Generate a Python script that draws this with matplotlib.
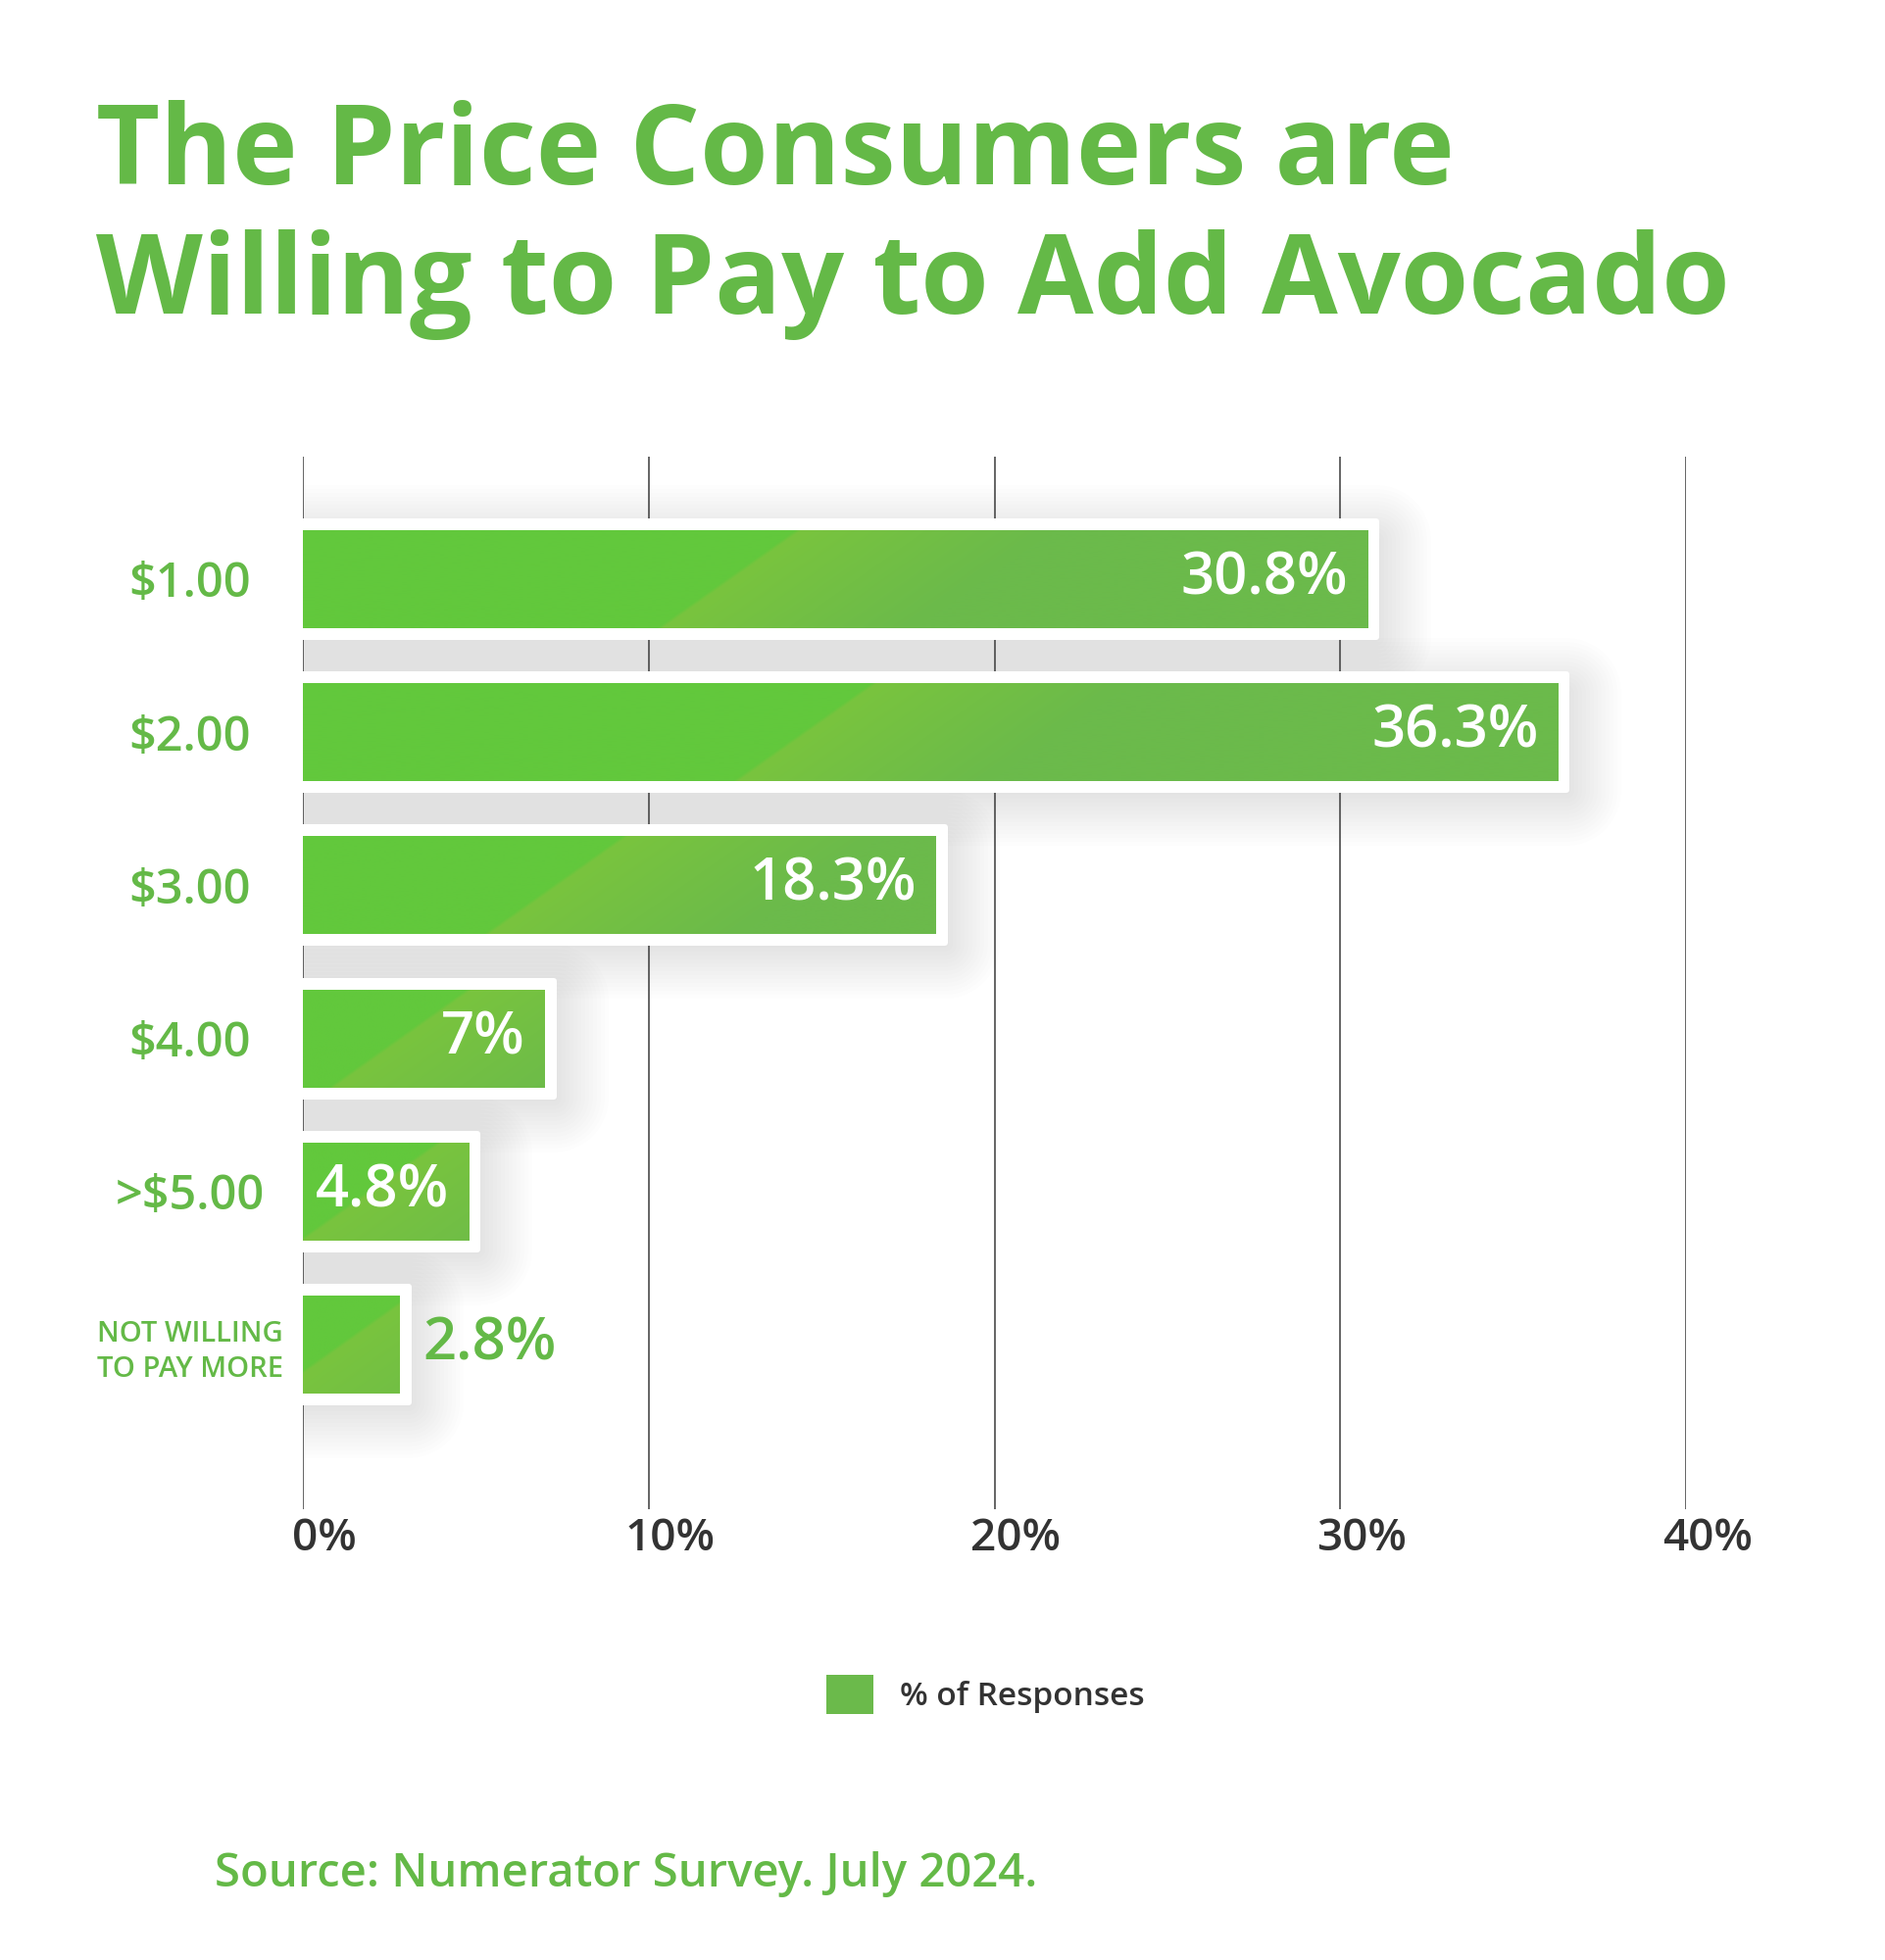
"""
Recreate the avocado add-on price infographic as a horizontal bar chart.
"""

import numpy as np
import matplotlib.pyplot as plt
from matplotlib.colors import to_rgb
from matplotlib.patches import Rectangle, Patch
from matplotlib.transforms import ScaledTranslation

# data
categories = ["$1.00", "$2.00", "$3.00", "$4.00", ">$5.00", "NOT WILLING\nTO PAY MORE"]
responses = [30.8, 36.3, 18.3, 7.0, 4.8, 2.8]
value_labels = ["30.8%", "36.3%", "18.3%", "7%", "4.8%", "2.8%"]
x_ticks = [0, 10, 20, 30, 40]
x_tick_labels = ["0%", "10%", "20%", "30%", "40%"]
title_lines = ["The Price Consumers are", "Willing to Pay to Add Avocado"]
legend_label = "% of Responses"
source_note = "Source: Numerator Survey. July 2024."

GREEN = "#64b947"
BAR_GREEN = "#6bba4b"
DARK = "#333333"
FONT = ["Open Sans", "DejaVu Sans"]

plt.rcParams["font.family"] = FONT

W_PX, H_PX, DPI = 1924, 2000, 100
fig = plt.figure(figsize=(W_PX / DPI, H_PX / DPI), dpi=DPI)
fig.patch.set_facecolor("white")

# axes box in pixels: left 309, right 1720, top 466, bottom 1540
ax_left, ax_right, ax_top, ax_bottom = 309, 1720, 466, 1540
ax = fig.add_axes([ax_left / W_PX, 1 - ax_bottom / H_PX,
                   (ax_right - ax_left) / W_PX, (ax_bottom - ax_top) / H_PX])
ax.set_facecolor("none")

y_pos = np.arange(len(categories))
x_lim = (0, 40)
y_lim = (len(categories) - 1 + 1.075, -0.8)
ppx = (ax_right - ax_left) / (x_lim[1] - x_lim[0])   # pixels per percent
ppy = (ax_bottom - ax_top) / (y_lim[0] - y_lim[1])   # pixels per row

bar_h = 100 / ppy
bars = ax.barh(y_pos, responses, height=bar_h, color=BAR_GREEN,
               zorder=2, label=legend_label)


def px2pt(px):
    return px * 72 / DPI


def paint_gradient(bar):
    """Lay a diagonal light band over the bar, like the original artwork."""
    x0, y0 = bar.get_x(), bar.get_y()
    w, h = bar.get_width(), bar.get_height()
    wp, hp = w * ppx, h * ppy
    xs = np.linspace(0, wp, max(int(wp), 2))
    ys = np.linspace(-hp / 2, hp / 2, max(int(hp), 2))
    X, Y = np.meshgrid(xs, ys)
    d = X - (0.40 * wp - 1.4 * Y)
    left = np.array(to_rgb("#62c83c"))
    band = np.array(to_rgb("#79c43e"))
    right = np.array(to_rgb(BAR_GREEN))
    s = np.clip(d / 6 + 0.5, 0, 1)[..., None]
    f = np.clip(d / 260, 0, 1)[..., None]
    after = band * (1 - f) + right * f
    rgb = left * (1 - s) + after * s
    ax.imshow(rgb, extent=(x0, x0 + w, y0 + h, y0), origin="upper",
              aspect="auto", interpolation="bilinear", zorder=2.5)


for bar in bars:
    x0, y0 = bar.get_x(), bar.get_y()
    w, h = bar.get_width(), bar.get_height()
    # soft drop shadow
    for r in range(4, 60, 4):
        ax.add_patch(Rectangle((x0, y0 + 10 / ppy), w + 9 / ppx, h,
                               facecolor="black", edgecolor="black",
                               linewidth=px2pt(2 * r), joinstyle="round",
                               alpha=0.007, zorder=0.2))
    # white frame
    pad_x, pad_y = 9 / ppx, 9 / ppy
    ax.add_patch(Rectangle((x0 - 4 / ppx, y0 - pad_y), w + pad_x + 4 / ppx,
                           h + 2 * pad_y, facecolor="white", edgecolor="white",
                           linewidth=px2pt(6), joinstyle="round", zorder=1))
    paint_gradient(bar)

# value labels, inside the bar when they fit
fig.canvas.draw()
renderer = fig.canvas.get_renderer()
for bar, lab in zip(bars, value_labels):
    end = bar.get_x() + bar.get_width()
    yc = bar.get_y() + bar.get_height() / 2
    t = ax.text(end - 20 / ppx, yc, lab, ha="right", va="center",
                color="white", fontsize=43, fontweight="semibold", zorder=3)
    tw = t.get_window_extent(renderer).width
    if tw + 30 > bar.get_width() * ppx:
        t.set_x(end + 24 / ppx)
        t.set_ha("left")
        t.set_color(GREEN)

# axes styling
ax.set_xlim(*x_lim)
ax.set_ylim(*y_lim)
for sp in ax.spines.values():
    sp.set_visible(False)
ax.set_xticks(x_ticks)
ax.set_xticklabels(x_tick_labels, fontsize=33, color=DARK, fontweight="semibold")
ax.tick_params(axis="x", length=0, pad=px2pt(8))
ax.grid(axis="x", color="#3a3a3a", linewidth=1.1, zorder=0.5)
ax.set_axisbelow(True)
shift = ScaledTranslation(22 / DPI, 0, fig.dpi_scale_trans)
for lbl in ax.get_xticklabels():
    lbl.set_transform(lbl.get_transform() + shift)

ax.set_yticks(y_pos)
ax.set_yticklabels(categories)
ax.tick_params(axis="y", length=0, pad=px2pt(ax_left - 194))
for i, lbl in enumerate(ax.get_yticklabels()):
    lbl.set_ha("center")
    lbl.set_color(GREEN)
    lbl.set_fontweight("semibold")
    if "\n" in categories[i]:
        lbl.set_fontsize(21)
        lbl.set_linespacing(1.35)
    else:
        lbl.set_fontsize(35)

# title, legend, source
fig.text(98 / W_PX, 1 - 188 / H_PX, title_lines[0], color=GREEN, fontsize=81,
         fontweight="bold", va="baseline", ha="left")
fig.text(98 / W_PX, 1 - 320 / H_PX, title_lines[1], color=GREEN, fontsize=81,
         fontweight="bold", va="baseline", ha="left")

handle = Patch(facecolor=BAR_GREEN, edgecolor="none")
fig.legend([handle], [legend_label], loc="center", bbox_to_anchor=(1005 / W_PX, 1 - 1729 / H_PX),
           frameon=False, prop={"size": 24, "weight": "semibold"},
           handlelength=1.45, handleheight=1.45, handletextpad=0.8,
           labelcolor=DARK)

fig.text(219 / W_PX, 1 - 1925 / H_PX, source_note, color=GREEN, fontsize=34,
         fontweight="semibold", va="baseline", ha="left")

fig.savefig("out.png", dpi=DPI, facecolor="white")
